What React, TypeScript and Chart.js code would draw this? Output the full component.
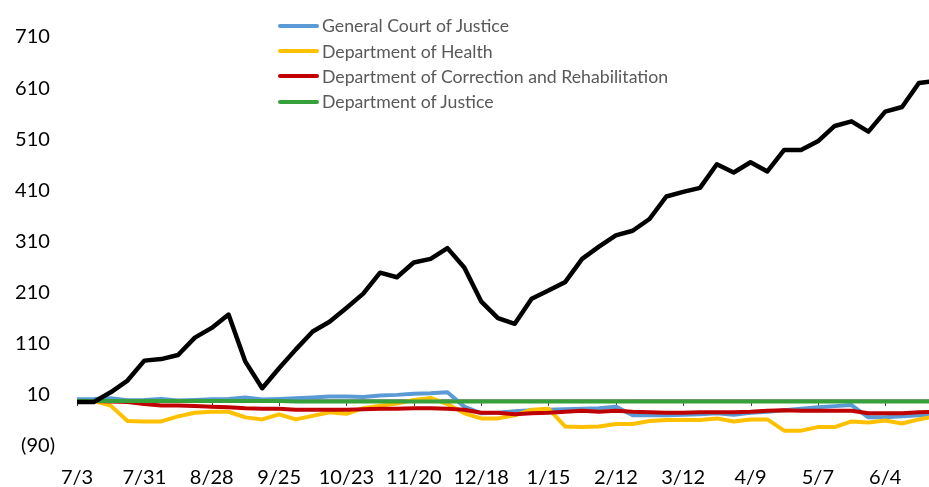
import React, { useEffect, useRef } from "react";
import { Chart, registerables } from "chart.js";

Chart.register(...registerables);

const weekLabels = [
  "7/3", "7/10", "7/17", "7/24", "7/31", "8/7", "8/14", "8/21", "8/28", "9/4", "9/11", "9/18", "9/25",
  "10/2", "10/9", "10/16", "10/23", "10/30", "11/6", "11/13", "11/20", "11/27", "12/4", "12/11", "12/18",
  "12/25", "1/1", "1/8", "1/15", "1/22", "1/29", "2/5", "2/12", "2/19", "2/26", "3/5", "3/12", "3/19",
  "3/26", "4/2", "4/9", "4/16", "4/23", "4/30", "5/7", "5/14", "5/21", "5/28", "6/4", "6/11", "6/18", "6/25",
];

const generalCourt = [
  1.5, 2, 3.5, -0.5, 0, 2, -1, 0, 1.5, 2, 5, 1, 2, 3.5, 5, 7, 7, 6, 9, 10, 12, 13, 15, -13, -26, -25,
  -22, -20, -19, -18, -17, -16, -13, -30, -30, -30, -29, -28, -26, -29, -25, -23, -20, -17, -14, -12, -10,
  -34, -34, -32, -30, -29,
];

const health = [
  -2, -2, -11, -41, -42, -42, -32, -25, -23, -23, -34, -38, -28, -38, -31, -24, -27, -16, -11, -7, 0, 4,
  -8, -26, -36, -36, -30, -19, -17, -52, -53, -52, -47, -47, -41, -39, -39, -39, -36, -42, -38, -38, -60,
  -60, -53, -53, -42, -44, -40, -46, -38, -32,
];

const correction = [
  -2, -2, -3, -4, -8, -11, -11, -12, -13, -14, -16, -17, -17, -19, -19, -19, -19, -18, -17, -17, -16, -16,
  -17, -19, -25, -25, -28, -26, -25, -23, -21, -23, -21, -23, -24, -25, -25, -24, -24, -24, -23, -21, -20,
  -21, -21, -21, -21, -26, -26, -26, -24, -23,
];

const justice = [
  -2, -2, -2, -2, -2, -2, -2, -2, -2, -2, -2, -2, -2, -3, -3, -3, -3, -3, -3, -3, -3, -3, -3, -3, -3, -3,
  -3, -3, -3, -3, -3, -3, -3, -3, -3, -3, -3, -3, -3, -3, -3, -3, -3, -3, -3, -3, -3, -3, -3, -3, -3, -3,
];

const total = [
  -4, -4, 15, 38, 77, 80, 88, 122, 141, 167, 75, 23, 62, 99, 134, 153, 180, 208, 249, 240, 269, 276, 297,
  259, 193, 160, 149, 198, 214, 231, 276, 300, 322, 331, 354, 398, 407, 415, 461, 445, 465, 447, 489, 489,
  506, 536, 545, 525, 564, 573, 620, 624,
];

const seriesNames = [
  "General Court of Justice",
  "Department of Health",
  "Department of Correction and Rehabilitation",
  "Department of Justice",
];
const seriesColors = ["#5B9BD5", "#FFC000", "#C00000", "#36A03A"];
const seriesValues = [generalCourt, health, correction, justice];

const FONT = "Lato, 'Open Sans', sans-serif";

const zeroAxisPlugin = {
  id: "zeroAxis",
  beforeDatasetsDraw(chart: any) {
    const { ctx, chartArea, scales } = chart;
    const y0 = scales.y.getPixelForValue(0);
    ctx.save();
    ctx.strokeStyle = "#404040";
    ctx.lineWidth = 1;
    ctx.beginPath();
    ctx.moveTo(chartArea.left, y0);
    ctx.lineTo(chartArea.right, y0);
    for (const t of scales.x.ticks) {
      const px = Math.round(scales.x.getPixelForValue(t.value)) + 0.5;
      ctx.moveTo(px, y0);
      ctx.lineTo(px, y0 + 6);
    }
    ctx.stroke();
    ctx.restore();
  },
};

export default function App() {
  const canvasRef = useRef<HTMLCanvasElement | null>(null);

  useEffect(() => {
    if (!canvasRef.current) return;
    const toPoints = (arr: number[]) => arr.map((v, i) => ({ x: i, y: v }));
    const datasets: any[] = seriesValues.map((vals, i) => ({
      label: seriesNames[i],
      data: toPoints(vals),
      borderColor: seriesColors[i],
      backgroundColor: seriesColors[i],
      borderWidth: 4,
      pointRadius: 0,
      tension: 0,
      borderJoinStyle: "round",
      borderCapStyle: "round",
      order: 5 - i,
    }));
    datasets.push({
      label: "Total",
      data: toPoints(total),
      borderColor: "#000000",
      backgroundColor: "#000000",
      borderWidth: 4.5,
      pointRadius: 0,
      tension: 0,
      borderJoinStyle: "round",
      borderCapStyle: "round",
      order: 0,
    });

    const chart = new Chart(canvasRef.current, {
      type: "line",
      data: { datasets },
      plugins: [zeroAxisPlugin],
      options: {
        animation: false,
        responsive: false,
        maintainAspectRatio: false,
        layout: { padding: { top: 37, left: 0, right: 0, bottom: 0 } },
        plugins: {
          legend: { display: false },
          tooltip: { enabled: false },
        },
        scales: {
          x: {
            type: "linear",
            min: 0,
            max: 50.6,
            grid: { display: false, drawTicks: false },
            border: { display: false },
            ticks: {
              stepSize: 4,
              includeBounds: false,
              autoSkip: false,
              maxRotation: 0,
              padding: 20,
              color: "#000000",
              font: { family: FONT, size: 20 },
              callback: (v: any) => weekLabels[Number(v)] ?? "",
            },
            afterFit: (scale: any) => {
              scale.height = 41;
            },
          },
          y: {
            type: "linear",
            min: -90,
            max: 710,
            grid: { display: false, drawTicks: false },
            border: { display: false },
            ticks: {
              stepSize: 100,
              padding: 22,
              color: "#000000",
              font: { family: FONT, size: 20 },
              callback: (v: any) => (Number(v) < 0 ? `(${-Number(v)})` : `${v} `),
            },
            afterFit: (scale: any) => {
              scale.width = 77;
            },
          },
        },
      },
    });
    return () => chart.destroy();
  }, []);

  return (
    <div style={{ position: "fixed", left: 0, top: 0, width: 929, height: 487, background: "#fff" }}>
      <canvas ref={canvasRef} width={929} height={487} style={{ display: "block" }} />
      <div style={{ position: "absolute", left: 278, top: 13, fontFamily: FONT, fontSize: 17.7, color: "#595959" }}>
        {seriesNames.map((name, i) => (
          <div key={name} style={{ display: "flex", alignItems: "center", height: 25.4, whiteSpace: "nowrap" }}>
            <span style={{ display: "inline-block", width: 41, height: 4, borderRadius: 2, background: seriesColors[i] }} />
            <span style={{ marginLeft: 3 }}>{name}</span>
          </div>
        ))}
      </div>
    </div>
  );
}
